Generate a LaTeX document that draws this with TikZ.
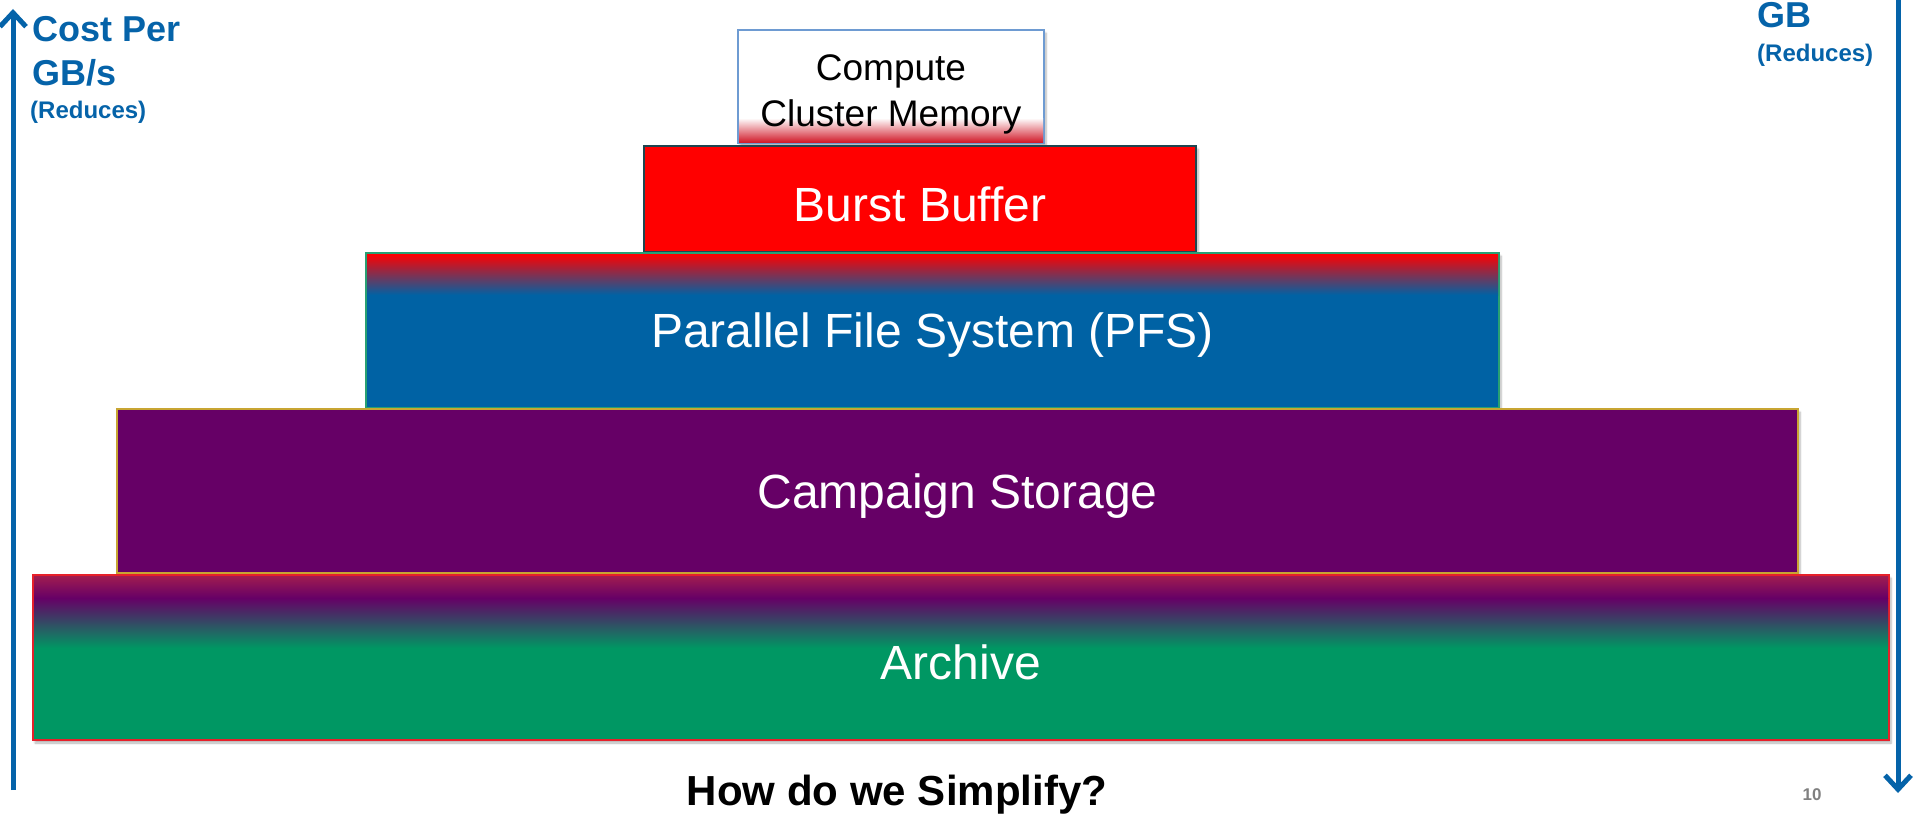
\documentclass[tikz,border=0pt]{standalone}
\usepackage{fontspec}
\setmainfont{Liberation Sans}
\usetikzlibrary{arrows.meta,shadows.blur}
\definecolor{axisblue}{RGB}{5,99,169}
\definecolor{pfsblue}{RGB}{0,98,164}
\definecolor{campurple}{RGB}{102,0,102}
\definecolor{archgreen}{RGB}{0,151,99}
\definecolor{bbred}{RGB}{255,0,0}
\definecolor{cmpred}{RGB}{210,30,45}
\definecolor{crimson}{RGB}{160,28,80}
\definecolor{cmpborder}{RGB}{110,155,210}
\definecolor{bbborder}{RGB}{30,70,80}
\definecolor{pfsborder}{RGB}{40,160,115}
\definecolor{camborder}{RGB}{200,165,50}
\definecolor{archborder}{RGB}{230,32,42}
\definecolor{pagegray}{RGB}{128,128,128}
\begin{document}
\begin{tikzpicture}[x=1pt,y=-1pt,
  layer/.style={draw, line width=1.8pt, inner sep=0, outer sep=0,
    blur shadow={shadow xshift=2pt,shadow yshift=-3pt,shadow opacity=30,shadow blur steps=6}},
  ltext/.style={text=white, font=\fontsize{48}{58}\selectfont, inner sep=0, yshift=-5pt},
  axislabel/.style={text=axisblue, font=\bfseries\fontsize{36}{43}\selectfont, anchor=base west, inner sep=0},
  smalllabel/.style={text=axisblue, font=\bfseries\fontsize{24}{29}\selectfont, anchor=base west, inner sep=0},
  axisline/.style={draw=axisblue, line width=5pt, -{Straight Barb[length=14pt,width=26pt]}}]
\useasboundingbox (0,0) rectangle (1915,816);

% layers, top to bottom
\node[layer, draw=cmpborder, fill=white, minimum width=306pt, minimum height=113pt] (cmp) at (891,86.5) {};
\shade[top color=white, bottom color=cmpred] (739,118) rectangle (1043,142);

\node[layer, draw=bbborder, fill=bbred, minimum width=552pt, minimum height=106pt] (bb) at (920,199) {};

\node[layer, draw=pfsborder, fill=pfsblue, minimum width=1133pt, minimum height=155pt] (pfs) at (932.5,330.5) {};
\shade[top color=bbred, bottom color=pfsblue] (367,254) rectangle (1498,295);

\node[layer, draw=camborder, fill=campurple, minimum width=1681pt, minimum height=164pt] (cam) at (957.5,491) {};

\node[layer, draw=archborder, fill=archgreen, minimum width=1856pt, minimum height=165pt] (arch) at (961,657.5) {};
\shade[top color=crimson, bottom color=campurple] (34,576) rectangle (1888,598);
\shade[top color=campurple, bottom color=archgreen] (34,598) rectangle (1888,648);

% layer texts
\node[text=black, font=\fontsize{37}{46}\selectfont, align=center, inner sep=0] (cmptext) at (891,94) {Compute\\Cluster Memory};
\node[ltext] (bbtext) at (bb) {Burst Buffer};
\node[ltext] (pfstext) at (pfs) {Parallel File System (PFS)};
\node[ltext] (camtext) at (cam) {Campaign Storage};
\node[ltext] (archtext) at (arch) {Archive};

% axes
\coordinate (lbot) at (13,790);
\coordinate (ltop) at (13,9);
\draw[axisline] (lbot) -- (ltop);
\coordinate (rtop) at (1898,0);
\coordinate (rbot) at (1898,793);
\draw[axisline] (rtop) -- (rbot);

% axis labels
\node[axislabel] (cost1) at (32,42) {Cost Per};
\node[axislabel] (cost2) at (32,85) {GB/s};
\node[smalllabel] (red1) at (30,118) {(Reduces)};
\node[axislabel] (gb) at (1757,28) {GB};
\node[smalllabel] (red2) at (1757,62) {(Reduces)};

% bottom
\node[font=\bfseries\fontsize{42}{50}\selectfont, anchor=base, inner sep=0] (q) at (897,805) {How do we Simplify?};
\node[text=pagegray, font=\bfseries\fontsize{17}{20}\selectfont, anchor=base, inner sep=0] (pg) at (1812,800) {10};
\end{tikzpicture}
\end{document}
